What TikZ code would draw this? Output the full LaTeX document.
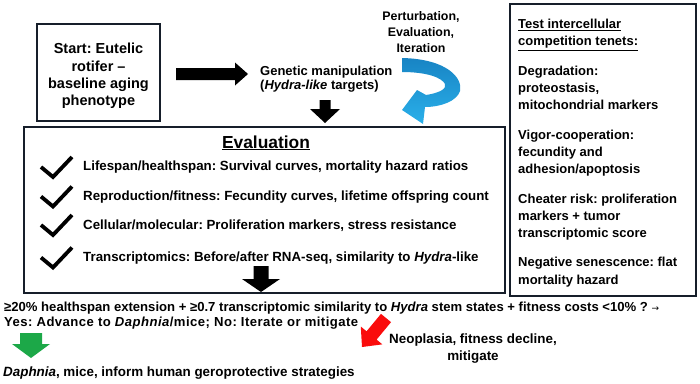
\documentclass[tikz,border=0pt]{standalone}
\usepackage{fontspec}
\setmainfont{Liberation Sans}
\newfontfamily\symfont{DejaVu Sans}
\usetikzlibrary{calc}
\frenchspacing
\definecolor{boxcol}{RGB}{22,30,42}
\definecolor{arrgreen}{RGB}{28,168,72}
\definecolor{arrred}{RGB}{250,12,12}
\definecolor{bluedark}{RGB}{24,132,196}
\definecolor{bluelight}{RGB}{42,176,234}
\newcommand\blockarr[6]{%
  \coordinate (ahbase) at ($(#2)!#5!(#1)$);
  \fill[#6] ($(#1)!#3!90:(#2)$) -- ($(ahbase)!#3!90:(#2)$) -- ($(ahbase)!#4!90:(#2)$) -- (#2)
    -- ($(ahbase)!#4!-90:(#2)$) -- ($(ahbase)!#3!-90:(#2)$) -- ($(#1)!#3!-90:(#2)$) -- cycle;}
\begin{document}
\begin{tikzpicture}[x=1pt,y=-1pt,
  boxline/.style={draw=boxcol, line width=1.8pt},
  txt/.style={inner sep=0pt, font=\bfseries\fontsize{13}{17.3}\selectfont},
  itemtxt/.style={inner sep=0pt, anchor=base west, font=\bfseries\fontsize{13.3}{16}\selectfont},
  check/.style={line width=3.8pt, line join=miter},
]
\useasboundingbox (0,0) rectangle (700,383);
\fill[white] (0,0) rectangle (700,383);

% start box
\node[boxline, minimum width=123pt, minimum height=97pt, inner sep=0pt] (start) at (98.5,72.5) {};
\node[inner sep=0pt, align=center, anchor=north, font=\bfseries\fontsize{14.5}{17.4}\selectfont] (starttext) at (98.5,43) {Start: Eutelic\\rotifer –\\baseline aging\\phenotype};

% genetic manipulation
\node[txt, anchor=north west, align=left, font=\bfseries\fontsize{13}{14.2}\selectfont] (gen) at (260,65.6) {Genetic manipulation\\(\textit{Hydra-like} targets)};

% perturbation
\node[inner sep=0pt, anchor=north, align=center, font=\bfseries\fontsize{12.4}{16}\selectfont] (pert) at (421,11.2) {Perturbation,\\Evaluation,\\Iteration};

% arrows top
\coordinate (a1s) at (176,74);
\coordinate (a1e) at (248,74);
\blockarr{a1s}{a1e}{6pt}{11.5pt}{13pt}{black}
\coordinate (a2s) at (325,100);
\coordinate (a2e) at (325,123);
\blockarr{a2s}{a2e}{5.5pt}{15pt}{14pt}{black}

% blue curved arrow
\shade[top color=bluedark, bottom color=bluelight]
  (402,58) .. controls (447,59) and (463,78) .. (460,91)
  .. controls (457,101) and (441,107) .. (425,107)
  -- (423,124) -- (402,110) -- (417,90) -- (426,95)
  .. controls (439,93) and (447,89) .. (445,84)
  .. controls (442,78) and (428,72) .. (402,72) -- cycle;

% evaluation box
\node[boxline, minimum width=481pt, minimum height=166pt, inner sep=0pt] (eval) at (264.5,210) {};
\node[inner sep=0pt, anchor=base, font=\bfseries\fontsize{17.4}{20}\selectfont] (evaltitle) at (266,148) {\underline{Evaluation}};
\node[itemtxt] (i1) at (83,170) {Lifespan/healthspan: Survival curves, mortality hazard ratios};
\node[itemtxt] (i2) at (83,200) {Reproduction/fitness: Fecundity curves, lifetime offspring count};
\node[itemtxt] (i3) at (83,229) {Cellular/molecular: Proliferation markers, stress resistance};
\node[itemtxt] (i4) at (83,261.5) {Transcriptomics: Before/after RNA-seq, similarity to \textit{Hydra}-like};
\foreach \yy in {167,196.5,225,257.5}{
  \draw[check] (41,\yy) -- (53,\yy+10) -- (72,\yy-10);
}
\coordinate (a3s) at (261,266);
\coordinate (a3e) at (261,292);
\blockarr{a3s}{a3e}{7.5pt}{19pt}{13pt}{black}

% tenets box
\node[boxline, minimum width=186pt, minimum height=292pt, inner sep=0pt, anchor=north west] (tenets) at (509,3) {};
\node[txt, anchor=north west, align=left] (tenetstext) at (518,19) {\underline{Test intercellular}\\\underline{competition tenets:}\\[12pt]
Degradation:\\proteostasis,\\mitochondrial markers\\[12pt]
Vigor-cooperation:\\fecundity and\\adhesion/apoptosis\\[12pt]
Cheater risk: proliferation\\markers + tumor\\transcriptomic score\\[12pt]
Negative senescence: flat\\mortality hazard};

% bottom
\node[txt, anchor=base west, font=\bfseries\fontsize{13.1}{16}\selectfont] (cond1) at (4,311.7) {≥20\% healthspan extension + ≥0.7 transcriptomic similarity to \textit{Hydra} stem states + fitness costs <10\% ? {\mdseries\symfont\fontsize{9}{10}\selectfont →}};
\node[txt, anchor=base west, font=\bfseries\fontsize{13.1}{16}\selectfont\addfontfeatures{LetterSpace=3.5}] (cond2) at (4,326.7) {Yes: Advance to \textit{Daphnia}/mice; No: Iterate or mitigate};
\coordinate (gs) at (31,333);
\coordinate (ge) at (31,358);
\blockarr{gs}{ge}{11pt}{19pt}{14pt}{arrgreen}
\node[txt, anchor=base west, font=\bfseries\fontsize{13.4}{16}\selectfont] (yes) at (3,376.7) {\textit{Daphnia}, mice, inform human geroprotective strategies};
\coordinate (rs) at (386,318);
\coordinate (re) at (362,347);
\blockarr{rs}{re}{6.5pt}{14pt}{15pt}{arrred}
\node[txt, anchor=north, align=center, font=\bfseries\fontsize{13.4}{17}\selectfont] (no) at (473,333.5) {Neoplasia, fitness decline,\\mitigate};
\end{tikzpicture}
\end{document}
